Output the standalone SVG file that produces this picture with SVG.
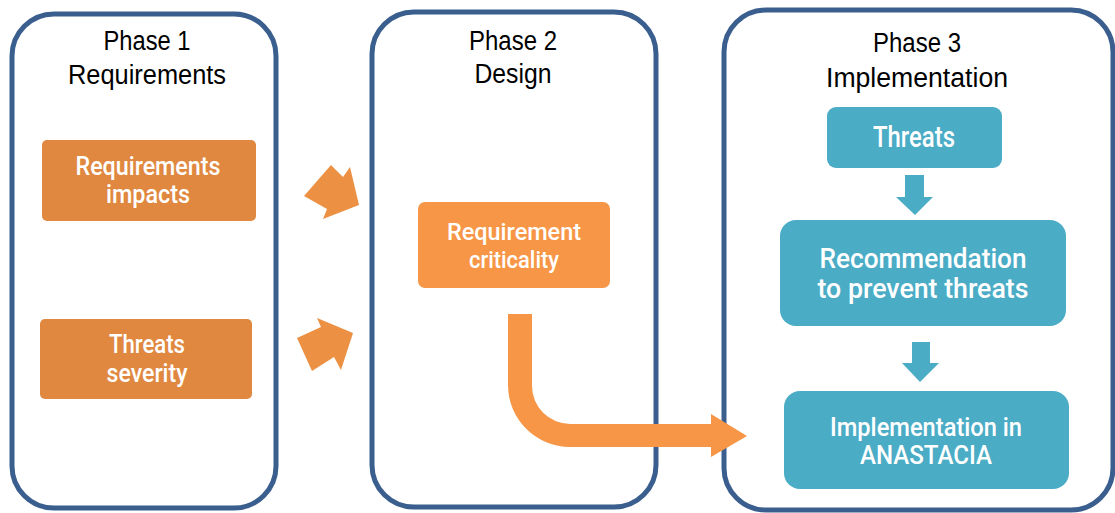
<svg xmlns="http://www.w3.org/2000/svg" width="1115" height="513" viewBox="0 0 1115 513">
  <style>
    .phase { fill: #ffffff; stroke: #3A5F8E; stroke-width: 5; }
    .head { font-family: "Liberation Sans", Arial, sans-serif; font-size: 27px; fill: #000000; text-anchor: middle; }
    .lbl { font-family: Roboto, "Liberation Sans", Arial, sans-serif; font-weight: 500; fill: #ffffff; text-anchor: middle; }
    .orange1 { fill: #E0883F; }
    .orange2 { fill: #F79646; }
    .teal { fill: #4BACC6; }
    .arrowO { fill: #EC9143; }
  </style>

  <!-- Phase 1 -->
  <g id="phase1">
    <rect class="phase" x="12" y="14" width="264" height="494" rx="42" ry="42"/>
    <text class="head" x="147" y="50" textLength="87" lengthAdjust="spacingAndGlyphs">Phase 1</text>
    <text class="head" x="147" y="84" textLength="158" lengthAdjust="spacingAndGlyphs">Requirements</text>
  </g>

  <!-- Phase 2 -->
  <g id="phase2">
    <rect class="phase" x="372" y="12" width="284" height="495" rx="42" ry="42"/>
    <text class="head" x="513" y="50" textLength="88" lengthAdjust="spacingAndGlyphs">Phase 2</text>
    <text class="head" x="513" y="83" textLength="77" lengthAdjust="spacingAndGlyphs">Design</text>
  </g>

  <!-- Phase 3 -->
  <g id="phase3">
    <rect class="phase" x="724" y="10" width="389" height="500" rx="42" ry="42"/>
    <text class="head" x="917" y="52" textLength="88" lengthAdjust="spacingAndGlyphs">Phase 3</text>
    <text class="head" x="917" y="87" textLength="182" lengthAdjust="spacingAndGlyphs">Implementation</text>
  </g>

  <!-- Phase 1 items -->
  <g id="req-impacts">
    <rect class="orange1" x="42" y="140" width="214" height="81" rx="5"/>
    <text class="lbl" x="148" y="175" font-size="25" textLength="145" lengthAdjust="spacingAndGlyphs">Requirements</text>
    <text class="lbl" x="148" y="203" font-size="25" textLength="84" lengthAdjust="spacingAndGlyphs">impacts</text>
  </g>
  <g id="threats-severity">
    <rect class="orange1" x="40" y="319" width="212" height="80" rx="5"/>
    <text class="lbl" x="147" y="353" font-size="25" textLength="76" lengthAdjust="spacingAndGlyphs">Threats</text>
    <text class="lbl" x="147" y="382" font-size="25" textLength="81" lengthAdjust="spacingAndGlyphs">severity</text>
  </g>

  <!-- Phase 2 item -->
  <g id="req-criticality">
    <rect class="orange2" x="418" y="202" width="192" height="86" rx="7"/>
    <text class="lbl" x="514" y="240" font-size="24" textLength="134" lengthAdjust="spacingAndGlyphs">Requirement</text>
    <text class="lbl" x="514" y="268" font-size="24" textLength="90" lengthAdjust="spacingAndGlyphs">criticality</text>
  </g>

  <!-- Phase 3 items -->
  <g id="threats">
    <rect class="teal" x="827" y="107" width="175" height="61" rx="9"/>
    <text class="lbl" x="914" y="147" font-size="29" textLength="82" lengthAdjust="spacingAndGlyphs">Threats</text>
  </g>
  <g id="recommendation">
    <rect class="teal" x="780" y="220" width="286" height="106" rx="16"/>
    <text class="lbl" x="923" y="268" font-size="28" textLength="207" lengthAdjust="spacingAndGlyphs">Recommendation</text>
    <text class="lbl" x="923" y="298" font-size="28" textLength="211" lengthAdjust="spacingAndGlyphs">to prevent threats</text>
  </g>
  <g id="implementation">
    <rect class="teal" x="784" y="391" width="285" height="98" rx="16"/>
    <text class="lbl" x="926" y="436" font-size="25" textLength="192" lengthAdjust="spacingAndGlyphs">Implementation in</text>
    <text class="lbl" x="926" y="464" font-size="25" textLength="132" lengthAdjust="spacingAndGlyphs">ANASTACIA</text>
  </g>

  <!-- Connectors -->
  <g id="connectors">
    <!-- phase 1 to phase 2 block arrows -->
    <polygon class="arrowO" points="331,165 343,177 350,167 359,205 323,219 327,209 304,196"/>
    <polygon class="arrowO" points="317,318 353,333 341,370 334,357 312,371 297,338 321,327"/>
    <!-- bent arrow from criticality into phase 3 -->
    <path class="orange2" d="M508,314 H532 V386 A38,38 0 0 0 570,424 H711 V414 L747,436 L711,457 V447 H570 A62,62 0 0 1 508,385 Z"/>
    <!-- phase 3 down arrows -->
    <polygon class="teal" points="905,175 924,175 924,197 933,197 915,215 896,197 905,197"/>
    <polygon class="teal" points="912,342 930,342 930,363 939,363 920,382 902,363 912,363"/>
  </g>
</svg>
